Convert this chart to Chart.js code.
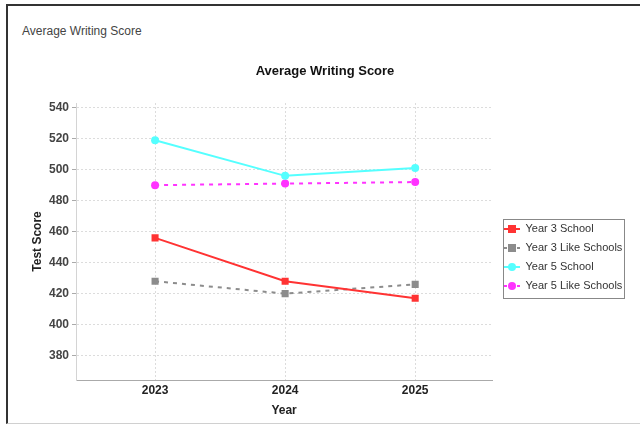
<!DOCTYPE html>
<html>
<head>
<meta charset="utf-8">
<script src="https://cdn.jsdelivr.net/npm/chart.js@4/dist/chart.umd.min.js"></script>
<style>
  html, body { margin: 0; padding: 0; background: #fff; }
  #frame {
    position: absolute; left: 6px; top: 4px; width: 700px; height: 417px;
    border-left: 2px solid #333; border-top: 2px solid #333; border-bottom: 1px solid #d0d0d0;
  }
  #heading {
    position: absolute; left: 22px; top: 23px;
    font: 12px "Liberation Sans", Arial, sans-serif; color: #444; line-height: 16px;
  }
  #wrap { position: absolute; left: 0; top: 0; width: 640px; height: 426px; }
</style>
</head>
<body>
<div id="frame"></div>
<div id="heading">Average Writing Score</div>
<div id="wrap"><canvas id="writingChart" width="640" height="426"></canvas></div>
<script>
// Chart data
const categories = ['2023', '2024', '2025'];
const year3School = [456, 428, 417];
const year3LikeSchools = [428, 420, 426];
const year5School = [519, 496, 501];
const year5LikeSchools = [490, 491, 492];
const yTicks = [380, 400, 420, 440, 460, 480, 500, 520, 540];

function toPoints(values) {
    return values.map((v, i) => ({ x: Number(categories[i]), y: v }));
}

// little line + marker icon for the legend
function legendIcon(color, style, dashed) {
    const c = document.createElement('canvas');
    c.width = 16; c.height = 10;
    const g = c.getContext('2d');
    g.strokeStyle = color;
    g.fillStyle = color;
    g.lineWidth = 2;
    if (dashed) {
        g.fillRect(0, 4, 3, 2);
        g.fillRect(13, 4, 3, 2);
    } else {
        g.beginPath(); g.moveTo(0, 5); g.lineTo(16, 5); g.stroke();
    }
    if (style === 'rect') {
        g.fillRect(4, 1, 8, 8);
    } else {
        g.beginPath(); g.arc(8, 5, 4, 0, Math.PI * 2); g.fill();
    }
    return c;
}

// put the legend where the original has it and draw its box
const legendTweak = {
    id: 'legendTweak',
    afterLayout(chart) {
        const lg = chart.legend;
        const pad = lg.options.labels.padding;
        const w = lg.right - lg.left, h = lg.bottom - lg.top;
        lg.left = 504 - pad; lg.right = lg.left + w;
        lg.top = 223.5 - pad; lg.bottom = lg.top + h;
    },
    afterDraw(chart) {
        const hb = chart.legend.legendHitBoxes;
        if (!hb || !hb.length) return;
        const ctx = chart.ctx;
        let l = Infinity, r = -Infinity;
        hb.forEach(b => { l = Math.min(l, b.left); r = Math.max(r, b.left + b.width); });
        const t = hb[0].top, last = hb[hb.length - 1];
        const x0 = Math.round(l - 1), y0 = Math.round(t - 4.5);
        const x1 = Math.round(r + 2), y1 = Math.round(last.top + last.height + 6);
        ctx.save();
        ctx.strokeStyle = '#888';
        ctx.lineWidth = 1;
        ctx.strokeRect(x0 + 0.5, y0 + 0.5, x1 - x0, y1 - y0);
        ctx.restore();
    }
};

const seriesStyle = [
    { label: 'Year 3 School', data: year3School, color: '#ff3333', style: 'rect', dash: [] },
    { label: 'Year 3 Like Schools', data: year3LikeSchools, color: '#8c8c8c', style: 'rect', dash: [4, 5] },
    { label: 'Year 5 School', data: year5School, color: '#55ffff', style: 'circle', dash: [] },
    { label: 'Year 5 Like Schools', data: year5LikeSchools, color: '#ff33ff', style: 'circle', dash: [4, 5] }
];

document.addEventListener('DOMContentLoaded', function () {
    const ctx = document.getElementById('writingChart').getContext('2d');
    new Chart(ctx, {
        type: 'line',
        data: {
            datasets: seriesStyle.map(s => ({
                label: s.label,
                data: toPoints(s.data),
                borderColor: s.color,
                backgroundColor: s.color,
                borderWidth: 2,
                borderDash: s.dash,
                pointStyle: s.style,
                pointRadius: s.style === 'rect' ? 5 : 4,
                pointBackgroundColor: s.color,
                pointBorderColor: s.color,
                pointBorderWidth: 0,
                tension: 0,
                fill: false
            }))
        },
        options: {
            responsive: false,
            animation: false,
            layout: { padding: { left: 21.5, right: 11.5, top: 0, bottom: 0 } },
            plugins: {
                title: {
                    display: true,
                    text: 'Average Writing Score',
                    color: '#111',
                    font: { family: 'Liberation Sans', size: 13, weight: 'bold' },
                    padding: { top: 64, bottom: 23.4 }
                },
                legend: {
                    position: 'right',
                    align: 'start',
                    labels: {
                        usePointStyle: true,
                        pointStyleWidth: 16,
                        padding: 8,
                        color: '#333',
                        font: { family: 'Liberation Sans', size: 11 },
                        generateLabels(chart) {
                            return seriesStyle.map((s, i) => ({
                                text: s.label,
                                datasetIndex: i,
                                fillStyle: s.color,
                                strokeStyle: s.color,
                                lineWidth: 0,
                                fontColor: '#333',
                                pointStyle: legendIcon(s.color, s.style, s.dash.length > 0)
                            }));
                        }
                    }
                },
                tooltip: { enabled: false }
            },
            scales: {
                x: {
                    type: 'linear',
                    min: 2022.392,
                    max: 2025.592,
                    afterBuildTicks(scale) {
                        scale.ticks = categories.map(c => ({ value: Number(c) }));
                    },
                    afterFit(scale) { scale.height = 46; },
                    ticks: {
                        padding: 3,
                        color: '#222',
                        font: { family: 'Liberation Sans', size: 12, weight: 'bold' },
                        callback: v => String(v)
                    },
                    grid: { color: '#dcdcdc', drawTicks: false },
                    border: { color: '#aaa', dash: [2, 2] },
                    title: {
                        display: true,
                        text: 'Year',
                        color: '#222',
                        font: { family: 'Liberation Sans', size: 12, weight: 'bold' },
                        padding: { top: 0, bottom: 8 }
                    }
                },
                y: {
                    min: 364.3,
                    max: 543,
                    afterBuildTicks(scale) {
                        scale.ticks = yTicks.map(v => ({ value: v }));
                    },
                    afterFit(scale) { scale.width = 54.5; },
                    ticks: {
                        padding: 3,
                        color: '#444',
                        font: { family: 'Liberation Sans', size: 12, weight: 'bold' }
                    },
                    grid: { color: '#dcdcdc', tickLength: 4, tickColor: '#aaa' },
                    border: { color: '#d4d4d4', dash: [2, 2] },
                    title: {
                        display: true,
                        text: 'Test Score',
                        color: '#222',
                        font: { family: 'Liberation Sans', size: 12, weight: 'bold' },
                        padding: { top: 9, bottom: 0 }
                    }
                }
            }
        },
        plugins: [legendTweak]
    });
});
</script>
</body>
</html>
